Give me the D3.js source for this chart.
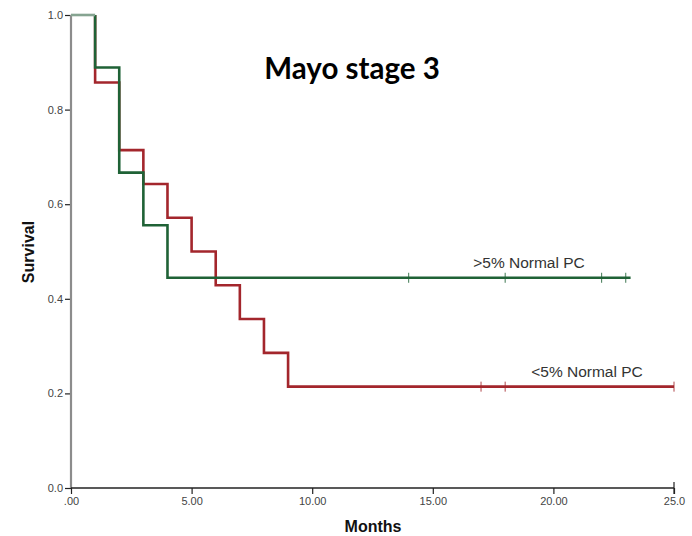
<!DOCTYPE html>
<html>
<head>
<meta charset="utf-8">
<script src="https://cdn.jsdelivr.net/npm/d3@7/dist/d3.min.js"></script>
<style>
  html, body { margin: 0; padding: 0; background: #fff; }
  svg { display: block; }
</style>
</head>
<body>
<svg id="chart" width="692" height="536"></svg>
<script>
// Kaplan–Meier survival, Mayo stage 3, split by normal plasma-cell fraction
const xTicks = [0, 5, 10, 15, 20, 25];
const xTickLabels = [".00", "5.00", "10.00", "15.00", "20.00", "25.0"];
const yTicks = [0, 0.2, 0.4, 0.6, 0.8, 1.0];
const yTickLabels = ["0.0", "0.2", "0.4", "0.6", "0.8", "1.0"];

// Group >5% normal PC (n = 9): event times, survival after each step, censor times, end of follow-up
const highTimes = [0, 1, 2, 3, 4];
const highSurv = [1, 8 / 9, 6 / 9, 5 / 9, 4 / 9];
const highCensor = [14, 18, 22, 23];
const highEnd = 23.2;

// Group <5% normal PC (n = 14)
const lowTimes = [0, 1, 2, 3, 4, 5, 6, 7, 8, 9];
const lowSurv = [1, 12 / 14, 10 / 14, 9 / 14, 8 / 14, 7 / 14, 6 / 14, 5 / 14, 4 / 14, 3 / 14];
const lowCensor = [17, 18, 25];
const lowEnd = 25;

const seriesNames = [">5% Normal PC", "<5% Normal PC"];

const svg = d3.select("#chart");
const x = d3.scaleLinear().domain([0, 25]).range([71, 674]);
const y = d3.scaleLinear().domain([0, 1]).range([488, 15]);

const tickFont = "Liberation Sans, Arial, sans-serif";

// Y axis
const yAxis = d3.axisLeft(y).tickValues(yTicks)
  .tickFormat((d, i) => yTickLabels[i]).tickSize(6).tickPadding(2);
const gy = svg.append("g").attr("transform", "translate(71,0)").call(yAxis);
gy.select(".domain").remove();
gy.selectAll(".tick line").attr("stroke", "#222").attr("stroke-width", 1.2);
gy.selectAll(".tick text").attr("font-family", tickFont).attr("font-size", 11)
  .attr("fill", "#444");
svg.append("line").attr("x1", 71).attr("x2", 71).attr("y1", y(1)).attr("y2", y(0))
  .attr("stroke", "#8c8c8c").attr("stroke-width", 2.2);

// X axis
const xAxis = d3.axisBottom(x).tickValues(xTicks)
  .tickFormat((d, i) => xTickLabels[i]).tickSize(6).tickPadding(3);
const gx = svg.append("g").attr("transform", "translate(0,488)").call(xAxis);
gx.select(".domain").remove();
gx.selectAll(".tick line").attr("stroke", "#222").attr("stroke-width", 1.2);
gx.selectAll(".tick text").attr("font-family", tickFont).attr("font-size", 11)
  .attr("fill", "#444");
svg.append("line").attr("x1", x(0)).attr("x2", x(25)).attr("y1", 488).attr("y2", 488)
  .attr("stroke", "#222").attr("stroke-width", 1.4);
svg.append("line").attr("x1", x(25)).attr("x2", x(25)).attr("y1", 482).attr("y2", 494)
  .attr("stroke", "#222").attr("stroke-width", 1.2);

// Step path through event times, extended flat to the end of follow-up
function stepPoints(times, surv, end) {
  const pts = times.map((t, i) => [t, surv[i]]);
  pts.push([end, surv[surv.length - 1]]);
  return pts;
}
const line = d3.line().x(d => x(d[0])).y(d => y(d[1])).curve(d3.curveStepAfter);

function drawCurve(times, surv, end, censor, color) {
  const pts = stepPoints(times, surv, end).filter(p => p[0] >= 1);
  pts.unshift([1, 1]);
  svg.append("path").datum(pts).attr("d", line)
    .attr("fill", "none").attr("stroke", color).attr("stroke-width", 2.6);
  const last = surv[surv.length - 1];
  svg.selectAll(null).data(censor).enter().append("line")
    .attr("x1", d => x(d)).attr("x2", d => x(d))
    .attr("y1", y(last) - 5).attr("y2", y(last) + 5)
    .attr("stroke", color).attr("stroke-width", 1).attr("opacity", 0.85);
}

const red = "#a3262c";
const green = "#1f6236";
drawCurve(lowTimes, lowSurv, lowEnd, lowCensor, red);
drawCurve(highTimes, highSurv, highEnd, highCensor, green);

// Shared opening segment where both groups are at 1.0
svg.append("line").attr("x1", x(0)).attr("x2", x(1)).attr("y1", y(1)).attr("y2", y(1))
  .attr("stroke", "#86a491").attr("stroke-width", 2.6);

// Series labels
svg.append("text").attr("x", 529).attr("y", 268).attr("text-anchor", "middle")
  .attr("font-family", tickFont).attr("font-size", 15.5).attr("fill", "#333")
  .text(seriesNames[0]);
svg.append("text").attr("x", 587).attr("y", 377).attr("text-anchor", "middle")
  .attr("font-family", tickFont).attr("font-size", 15.5).attr("fill", "#333")
  .text(seriesNames[1]);

// Titles
svg.append("text").attr("x", 352).attr("y", 79).attr("text-anchor", "middle")
  .attr("font-family", "Lato, Carlito, sans-serif").attr("font-weight", "bold")
  .attr("font-size", 29.5).attr("fill", "#000").text("Mayo stage 3");
svg.append("text").attr("x", 373).attr("y", 532).attr("text-anchor", "middle")
  .attr("font-family", tickFont).attr("font-weight", "bold")
  .attr("font-size", 16).attr("fill", "#111").text("Months");
svg.append("text").attr("transform", "translate(34,252) rotate(-90)")
  .attr("text-anchor", "middle")
  .attr("font-family", tickFont).attr("font-weight", "bold")
  .attr("font-size", 16).attr("fill", "#111").text("Survival");
</script>
</body>
</html>
